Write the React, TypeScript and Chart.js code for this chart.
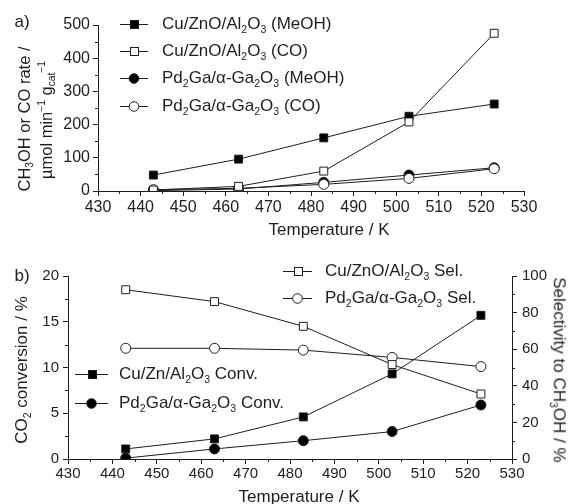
import React, { useEffect, useRef } from 'react';
import { Chart, registerables } from 'chart.js';

Chart.register(...registerables);

// ---------- data ----------
const temperatures = [443, 463, 483, 503, 523];

// panel a) rates / umol min-1 gcat-1
const cuMeOHRate = [48, 96, 160, 225, 262];
const cuCORate = [3, 14, 60, 208, 475];
const pdMeOHRate = [1, 6, 26, 48, 70];
const pdCORate = [4, 8, 20, 38, 67];

// panel b) conversion / % and selectivity / %
const cuConversion = [1.1, 2.2, 4.6, 9.3, 15.7];
const pdConversion = [0.1, 1.1, 2.0, 3.0, 5.9];
const cuSelectivity = [92.5, 86, 72.5, 51.6, 35.5];
const pdSelectivity = [60.5, 60.5, 59.5, 55.5, 50.5];

// ---------- ticks ----------
const tempTicks = [430, 440, 450, 460, 470, 480, 490, 500, 510, 520, 530];
const tempMinorTicks = [435, 445, 455, 465, 475, 485, 495, 505, 515, 525];
const rateTicks = [0, 100, 200, 300, 400, 500];
const rateMinorTicks = [50, 150, 250, 350, 450];
const convTicks = [0, 5, 10, 15, 20];
const convMinorTicks = [2.5, 7.5, 12.5, 17.5];
const selTicks = [0, 20, 40, 60, 80, 100];
const selMinorTicks = [10, 30, 50, 70, 90];

const FONT = "'Liberation Sans', Arial, Helvetica, sans-serif";
const INK = '#1e1e1e';

const minorTicksPlugin = {
  id: 'minorTicks',
  afterDraw(chart: any, _args: any, opts: any) {
    const ctx = chart.ctx;
    const len = opts.length || 3;
    ctx.save();
    ctx.strokeStyle = INK;
    ctx.lineWidth = 1;
    for (const s of opts.scales || []) {
      const scale = chart.scales[s.id];
      if (!scale) continue;
      for (const v of s.values) {
        const p = Math.round(scale.getPixelForValue(v)) + 0.5;
        ctx.beginPath();
        if (scale.isHorizontal()) {
          const y = scale.top;
          ctx.moveTo(p, y);
          ctx.lineTo(p, y + len);
        } else if (scale.position === 'left') {
          const x = scale.right;
          ctx.moveTo(x, p);
          ctx.lineTo(x - len, p);
        } else {
          const x = scale.left;
          ctx.moveTo(x, p);
          ctx.lineTo(x + len, p);
        }
        ctx.stroke();
      }
    }
    ctx.restore();
  },
};

function series(label: string, values: number[], style: string, filled: boolean, order: number, axis?: string) {
  const d: any = {
    label,
    data: temperatures.map((t, i) => ({ x: t, y: values[i] })),
    borderColor: INK,
    borderWidth: 1,
    pointStyle: style,
    pointRadius: style === 'rect' ? 5.6 : 5,
    pointBorderWidth: 1,
    pointBorderColor: INK,
    pointBackgroundColor: filled ? '#000' : '#fff',
    backgroundColor: filled ? '#000' : '#fff',
    tension: 0,
    fill: false,
    order,
  };
  if (axis) d.yAxisID = axis;
  return d;
}

function axisBase(ticks: number[], size: number, padding: number, fitKey: 'width' | 'height', fitVal: number, extra: any = {}) {
  return {
    type: 'linear',
    min: ticks[0],
    max: ticks[ticks.length - 1],
    afterBuildTicks: (s: any) => {
      s.ticks = ticks.map((v) => ({ value: v }));
    },
    afterFit: (s: any) => {
      s[fitKey] = fitVal;
    },
    ticks: { font: { family: FONT, size }, color: INK, padding, maxRotation: 0, autoSkip: false },
    grid: { display: true, drawOnChartArea: false, drawTicks: true, tickLength: 5, color: INK, lineWidth: 1 },
    border: { display: true, color: INK, width: 1 },
    ...extra,
  };
}

const Sub = ({ children }: { children: any }) => (
  <span style={{ fontSize: '0.62em', verticalAlign: '-0.38em', lineHeight: 0 }}>{children}</span>
);
const Sup = ({ children }: { children: any }) => (
  <span style={{ fontSize: '0.62em', verticalAlign: '0.6em', lineHeight: 0 }}>{children}</span>
);

function LegendRow(props: { x1: number; x2: number; y: number; marker: 'square' | 'circle'; filled: boolean; textX: number; children: any }) {
  const { x1, x2, y, marker, filled, textX, children } = props;
  const w = x2 - x1;
  const c = w / 2;
  return (
    <>
      <svg
        width={w}
        height={14}
        style={{ position: 'absolute', left: x1, top: y - 7, overflow: 'visible' }}
      >
        <line x1={0} y1={7.5} x2={w} y2={7.5} stroke={INK} strokeWidth={1} />
        {marker === 'square' ? (
          <rect x={Math.round(c - 4) + 0.5} y={3.5} width={8} height={8} fill={filled ? '#000' : '#fff'} stroke={INK} strokeWidth={1} />
        ) : (
          <circle cx={c} cy={7.5} r={4.8} fill={filled ? '#000' : '#fff'} stroke={INK} strokeWidth={1} />
        )}
      </svg>
      <div
        style={{
          position: 'absolute',
          left: textX,
          top: y,
          transform: 'translateY(-50%)',
          fontFamily: FONT,
          fontSize: 17,
          color: INK,
          whiteSpace: 'nowrap',
          lineHeight: 1.1,
        }}
      >
        {children}
      </div>
    </>
  );
}

function Label(props: { x: number; y: number; rotate?: number; size?: number; children: any }) {
  const { x, y, rotate = 0, size = 17, children } = props;
  return (
    <div
      style={{
        position: 'absolute',
        left: x,
        top: y,
        transform: `translate(-50%, -50%) rotate(${rotate}deg)`,
        fontFamily: FONT,
        fontSize: size,
        color: INK,
        whiteSpace: 'nowrap',
        lineHeight: 1.15,
      }}
    >
      {children}
    </div>
  );
}

export default function App() {
  const topRef = useRef<HTMLCanvasElement>(null);
  const botRef = useRef<HTMLCanvasElement>(null);

  useEffect(() => {
    document.documentElement.style.overflow = 'hidden';
    document.body.style.margin = '0';

    const top = new Chart(topRef.current as HTMLCanvasElement, {
      type: 'line',
      data: {
        datasets: [
          series('Cu/ZnO/Al2O3 (MeOH)', cuMeOHRate, 'rect', true, 2),
          series('Cu/ZnO/Al2O3 (CO)', cuCORate, 'rect', false, 1),
          series('Pd2Ga/α-Ga2O3 (MeOH)', pdMeOHRate, 'circle', true, 2),
          series('Pd2Ga/α-Ga2O3 (CO)', pdCORate, 'circle', false, 1),
        ],
      },
      options: {
        responsive: false,
        maintainAspectRatio: false,
        animation: false,
        layout: { padding: { left: 0, right: 39, top: 17, bottom: 0 } },
        plugins: {
          legend: { display: false },
          tooltip: { enabled: false },
          minorTicks: {
            length: 3,
            scales: [
              { id: 'x', values: tempMinorTicks },
              { id: 'y', values: rateMinorTicks },
            ],
          },
        } as any,
        scales: {
          x: axisBase(tempTicks, 16, 2, 'height', 49),
          y: axisBase(rateTicks, 16, 3, 'width', 90, { position: 'left' }),
        } as any,
      },
      plugins: [minorTicksPlugin as any],
    });

    const bot = new Chart(botRef.current as HTMLCanvasElement, {
      type: 'line',
      data: {
        datasets: [
          series('Cu/Zn/Al2O3 Conv.', cuConversion, 'rect', true, 2, 'y'),
          series('Pd2Ga/α-Ga2O3 Conv.', pdConversion, 'circle', true, 2, 'y'),
          series('Cu/ZnO/Al2O3 Sel.', cuSelectivity, 'rect', false, 1, 'y1'),
          series('Pd2Ga/α-Ga2O3 Sel.', pdSelectivity, 'circle', false, 1, 'y1'),
        ],
      },
      options: {
        responsive: false,
        maintainAspectRatio: false,
        animation: false,
        layout: { padding: { left: 0, right: 0, top: 28, bottom: 0 } },
        plugins: {
          legend: { display: false },
          tooltip: { enabled: false },
          minorTicks: {
            length: 3,
            scales: [
              { id: 'x', values: tempMinorTicks },
              { id: 'y', values: convMinorTicks },
              { id: 'y1', values: selMinorTicks },
            ],
          },
        } as any,
        scales: {
          x: axisBase(tempTicks, 15, 1, 'height', 29),
          y: axisBase(convTicks, 15, 4, 'width', 60, { position: 'left' }),
          y1: axisBase(selTicks, 15, 5, 'width', 51, { position: 'right' }),
        } as any,
      },
      plugins: [minorTicksPlugin as any],
    });

    return () => {
      top.destroy();
      bot.destroy();
    };
  }, []);

  return (
    <div style={{ position: 'relative', width: 571, height: 504, overflow: 'hidden', background: '#fff' }}>
      <style>{'body{margin:0}'}</style>
      <div style={{ position: 'absolute', left: 8, top: 8, width: 555, height: 488 }}>
        <canvas ref={topRef} width={555} height={232} style={{ position: 'absolute', left: 0, top: 0, width: 555, height: 232 }} />
        <canvas ref={botRef} width={555} height={240} style={{ position: 'absolute', left: 0, top: 240, width: 555, height: 240 }} />

        {/* panel labels */}
        <Label x={14} y={14} size={17}>a)</Label>
        <Label x={14} y={268} size={17}>b)</Label>

        {/* panel a axis titles */}
        <Label x={16} y={111} rotate={-90} size={16.5}>
          CH<Sub>3</Sub>OH or CO rate /
        </Label>
        <Label x={38} y={112} rotate={-90} size={16.5}>
          µmol min<Sup>−1</Sup> g<Sub>cat</Sub><Sup>−1</Sup>
        </Label>
        <Label x={321} y={222}>Temperature / K</Label>

        {/* panel b axis titles */}
        <Label x={14} y={362} rotate={-90}>
          CO<Sub>2</Sub> conversion / %
        </Label>
        <Label x={551} y={362} rotate={90}>
          Selectivity to CH<Sub>3</Sub>OH / %
        </Label>
        <Label x={291} y={489}>Temperature / K</Label>

        {/* panel a legend */}
        <LegendRow x1={112} x2={140} y={16} marker="square" filled textX={154}>
          Cu/ZnO/Al<Sub>2</Sub>O<Sub>3</Sub> (MeOH)
        </LegendRow>
        <LegendRow x1={112} x2={140} y={43} marker="square" filled={false} textX={154}>
          Cu/ZnO/Al<Sub>2</Sub>O<Sub>3</Sub> (CO)
        </LegendRow>
        <LegendRow x1={112} x2={140} y={70} marker="circle" filled textX={154}>
          Pd<Sub>2</Sub>Ga/α-Ga<Sub>2</Sub>O<Sub>3</Sub> (MeOH)
        </LegendRow>
        <LegendRow x1={112} x2={140} y={98} marker="circle" filled={false} textX={154}>
          Pd<Sub>2</Sub>Ga/α-Ga<Sub>2</Sub>O<Sub>3</Sub> (CO)
        </LegendRow>

        {/* panel b legends */}
        <LegendRow x1={275} x2={304} y={263} marker="square" filled={false} textX={317}>
          Cu/ZnO/Al<Sub>2</Sub>O<Sub>3</Sub> Sel.
        </LegendRow>
        <LegendRow x1={275} x2={304} y={290} marker="circle" filled={false} textX={317}>
          Pd<Sub>2</Sub>Ga/α-Ga<Sub>2</Sub>O<Sub>3</Sub> Sel.
        </LegendRow>
        <LegendRow x1={67} x2={100} y={366} marker="square" filled textX={111}>
          Cu/Zn/Al<Sub>2</Sub>O<Sub>3</Sub> Conv.
        </LegendRow>
        <LegendRow x1={67} x2={100} y={395} marker="circle" filled textX={111}>
          Pd<Sub>2</Sub>Ga/α-Ga<Sub>2</Sub>O<Sub>3</Sub> Conv.
        </LegendRow>
      </div>
    </div>
  );
}
